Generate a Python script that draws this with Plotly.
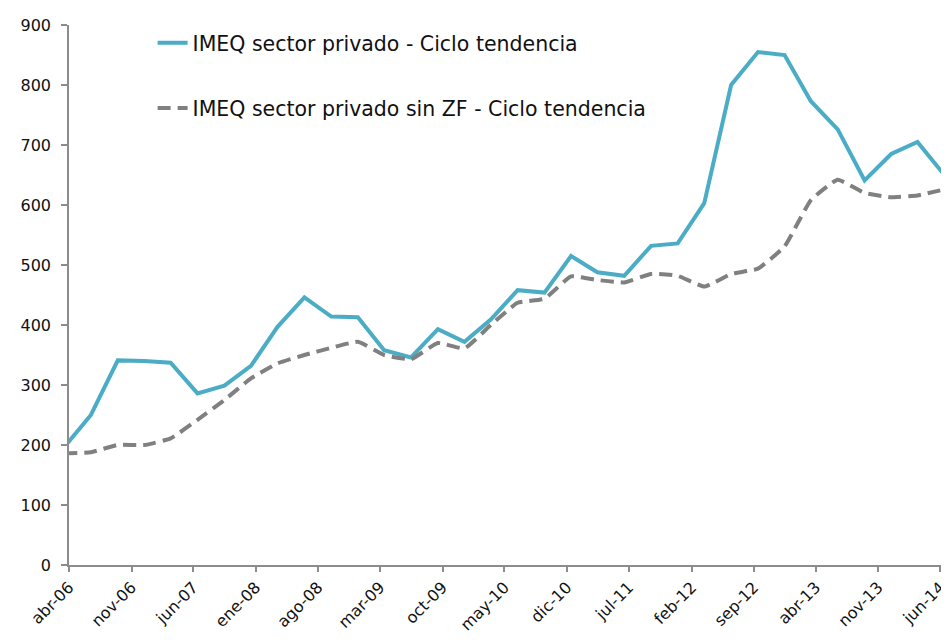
import plotly.graph_objects as go

# Quarterly observations (plotted at mid-month of the quarter's last month)
dates = [
    "2006-03-15", "2006-06-15", "2006-09-15", "2006-12-15",
    "2007-03-15", "2007-06-15", "2007-09-15", "2007-12-15",
    "2008-03-15", "2008-06-15", "2008-09-15", "2008-12-15",
    "2009-03-15", "2009-06-15", "2009-09-15", "2009-12-15",
    "2010-03-15", "2010-06-15", "2010-09-15", "2010-12-15",
    "2011-03-15", "2011-06-15", "2011-09-15", "2011-12-15",
    "2012-03-15", "2012-06-15", "2012-09-15", "2012-12-15",
    "2013-03-15", "2013-06-15", "2013-09-15", "2013-12-15",
    "2014-03-15", "2014-06-15",
]

imeq_privado = [196, 250, 341, 340, 337, 286, 299, 332, 397, 446, 414, 413,
                358, 346, 393, 372, 409, 458, 454, 515, 488, 482, 532, 536,
                603, 800, 855, 850, 773, 726, 641, 685, 705, 650]

imeq_sin_zf = [186, 188, 200, 200, 211, 242, 275, 311, 336, 350, 362, 372,
               350, 343, 370, 361, 400, 437, 444, 481, 475, 471, 485, 482,
               464, 485, 494, 531, 608, 642, 620, 613, 616, 626]

tick_dates = ["2006-04-01", "2006-11-01", "2007-06-01", "2008-01-01",
              "2008-08-01", "2009-03-01", "2009-10-01", "2010-05-01",
              "2010-12-01", "2011-07-01", "2012-02-01", "2012-09-01",
              "2013-04-01", "2013-11-01", "2014-06-01"]
tick_labels = ["abr-06", "nov-06", "jun-07", "ene-08", "ago-08", "mar-09",
               "oct-09", "may-10", "dic-10", "jul-11", "feb-12", "sep-12",
               "abr-13", "nov-13", "jun-14"]

y_ticks = [0, 100, 200, 300, 400, 500, 600, 700, 800, 900]

FONT = "DejaVu Sans"
TXT = "#111111"

fig = go.Figure()
fig.add_trace(go.Scatter(
    x=dates, y=imeq_privado, mode="lines",
    name="IMEQ sector privado - Ciclo tendencia",
    line=dict(color="#4BACC6", width=4),
    legend="legend",
))
fig.add_trace(go.Scatter(
    x=dates, y=imeq_sin_zf, mode="lines",
    name="IMEQ sector privado sin ZF - Ciclo tendencia",
    line=dict(color="#808080", width=4, dash="13px,7px", shape="spline", smoothing=0.4),
    legend="legend2",
))

# The page body adds an 8px offset, so the figure is sized to fill the remaining window.
fig.update_layout(
    width=941, height=634,
    margin=dict(l=61, r=0, t=17, b=77),
    paper_bgcolor="white", plot_bgcolor="white",
    font=dict(family=FONT, size=15, color=TXT),
    showlegend=True,
    legend=dict(x=0.095, y=0.967, xanchor="left", yanchor="middle",
                bgcolor="rgba(0,0,0,0)", font=dict(size=20.5, family=FONT, color=TXT)),
    legend2=dict(x=0.095, y=0.846, xanchor="left", yanchor="middle",
                 bgcolor="rgba(0,0,0,0)", font=dict(size=20.5, family=FONT, color=TXT)),
)

fig.update_xaxes(
    type="date",
    range=["2006-04-01", "2014-07-01"],
    tickmode="array", tickvals=tick_dates, ticktext=tick_labels,
    tickangle=-45,
    automargin=False,
    showgrid=False, zeroline=False,
    showline=True, linecolor="#8c8c8c", linewidth=1.5,
    ticks="outside", ticklen=5, tickcolor="#8c8c8c", tickwidth=1.5,
    tickfont=dict(size=16, family=FONT, color=TXT),
)
fig.update_yaxes(
    range=[0, 900],
    tickmode="array", tickvals=y_ticks,
    automargin=False,
    showgrid=False, zeroline=False,
    showline=True, linecolor="#8c8c8c", linewidth=1.5,
    ticks="outside", ticklen=6, tickcolor="#8c8c8c", tickwidth=1.5,
    ticklabelstandoff=7,
    tickfont=dict(size=16, family=FONT, color=TXT),
)

fig.write_html("out.html")
